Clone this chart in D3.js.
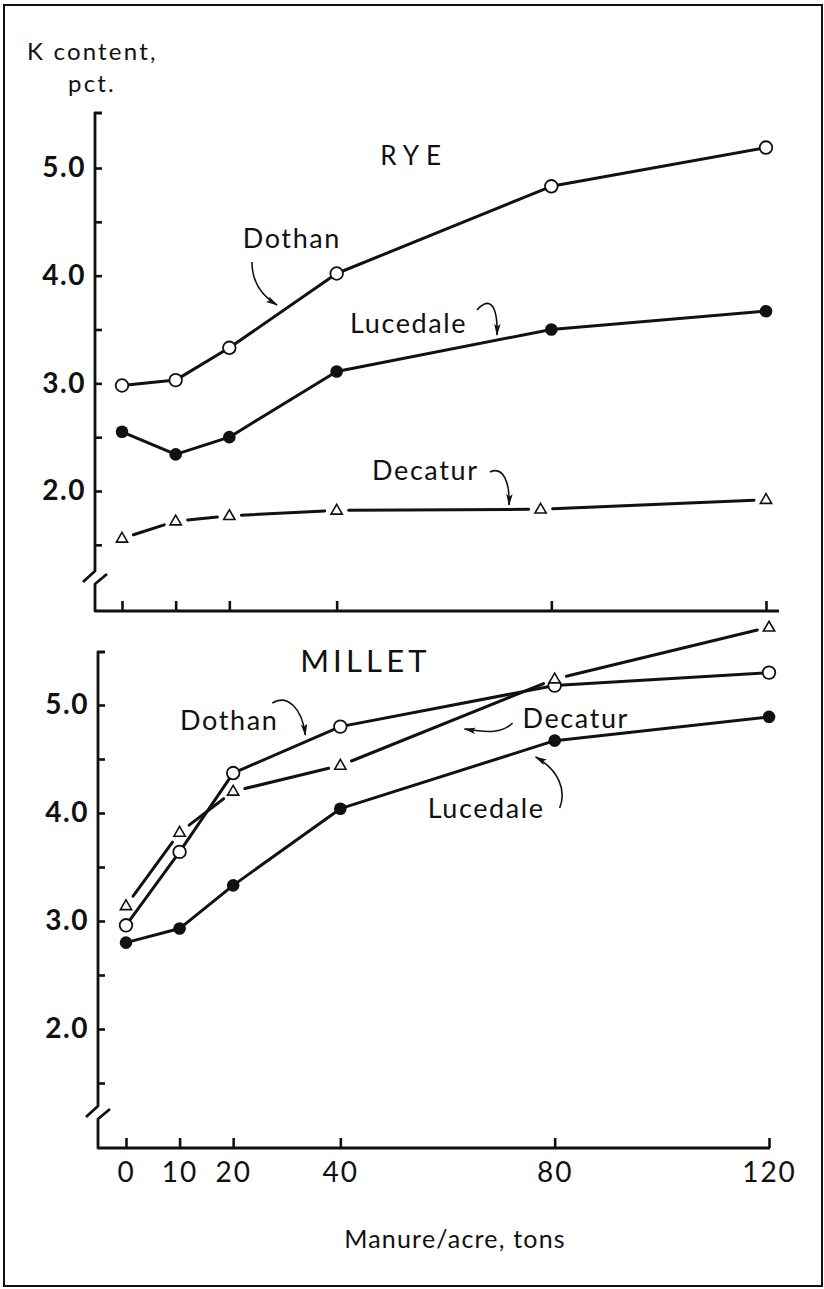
<!DOCTYPE html>
<html>
<head>
<meta charset="utf-8">
<script src="https://cdn.jsdelivr.net/npm/d3@7"></script>
<style>
  html, body { margin: 0; padding: 0; background: #fff; }
  svg { display: block; }
  text { font-family: Lato, "DejaVu Sans", sans-serif; fill: #111; }
</style>
</head>
<body>
<svg id="chart" width="824" height="1289"></svg>
<script>
// ---------------- DATA ----------------
const manure = [0, 10, 20, 40, 80, 120];             // tons per acre
const xTickValues = [0, 10, 20, 40, 80, 120];
const xTickLabels = ["0", "10", "20", "40", "80", "120"];
const yMajorTicks = [2.0, 3.0, 4.0, 5.0];
const yMinorTicks = [1.5, 2.5, 3.5, 4.5];

// RYE, K content (pct.)
const ryeDothan   = [2.98, 3.03, 3.33, 4.02, 4.83, 5.19];
const ryeLucedale = [2.55, 2.34, 2.50, 3.11, 3.50, 3.67];
const ryeDecaturX = [0, 10, 20, 40, 78, 120];
const ryeDecatur  = [1.56, 1.72, 1.77, 1.82, 1.83, 1.92];

// MILLET, K content (pct.)
const milDothan   = [2.96, 3.64, 4.37, 4.80, 5.18, 5.30];
const milLucedale = [2.80, 2.93, 3.33, 4.04, 4.67, 4.89];
const milDecatur  = [3.14, 3.82, 4.20, 4.44, 5.24, 5.72];

// ---------------- LAYOUT ----------------
const svg = d3.select("#chart");
const INK = "#111";

svg.append("rect").attr("x", 4).attr("y", 5).attr("width", 818).attr("height", 1281)
  .attr("fill", "none").attr("stroke", INK).attr("stroke-width", 2);

// arrowhead marker
svg.append("defs").append("marker")
  .attr("id", "arrow").attr("viewBox", "0 0 12 8").attr("refX", 11).attr("refY", 4)
  .attr("markerWidth", 12).attr("markerHeight", 8).attr("markerUnits", "userSpaceOnUse")
  .attr("orient", "auto")
  .append("path").attr("d", "M0,0.8 L12,4 L0,7.2 L2.5,4 Z").attr("fill", INK);

const panels = [
  {
    name: "RYE",
    x: d3.scaleLinear().domain([0, 120]).range([122, 766]),
    y: d3.scaleLinear().domain([2, 5]).range([491, 168]),
    axisX: 95, axisTop: 113, breakY: 571, baseY: 611, axisRight: 779,
    showXLabels: false,
    title: {text: "RYE", x: 48.1, y: 5.03, size: 26, ls: 7},
    series: [
      {xs: manure, ys: ryeDothan, type: "open"},
      {xs: manure, ys: ryeLucedale, type: "filled"},
      {xs: ryeDecaturX, ys: ryeDecatur, type: "tri"}
    ],
    labels: [
      {text: "Dothan", x: 22.5, y: 4.257,
       arrow: [[24.22, 4.127], [24.22, 3.867], [28.88, 3.728]]},
      {text: "Lucedale", x: 42.5, y: 3.468,
       arrow: [[66.15, 3.681], [68.01, 3.793], [70.06, 3.774], [69.88, 3.449]]},
      {text: "Decatur", x: 46.6, y: 2.102,
       arrow: [[68.57, 2.177], [70.99, 2.232], [72.30, 2.084], [72.11, 1.870]]}
    ]
  },
  {
    name: "MILLET",
    x: d3.scaleLinear().domain([0, 120]).range([126, 769]),
    y: d3.scaleLinear().domain([2, 5]).range([1029, 705]),
    axisX: 98, axisTop: 652, breakY: 1106, baseY: 1148, axisRight: 770,
    showXLabels: true,
    title: {text: "MILLET", x: 32.5, y: 5.306, size: 31, ls: 4.2},
    series: [
      {xs: manure, ys: milDothan, type: "open"},
      {xs: manure, ys: milLucedale, type: "filled"},
      {xs: manure, ys: milDecatur, type: "tri"}
    ],
    labels: [
      {text: "Dothan", x: 10.1, y: 4.769,
       arrow: [[27.29, 5.019], [30.09, 5.102], [32.90, 4.972], [33.46, 4.722]]},
      {text: "Decatur", x: 74.0, y: 4.787,
       arrow: [[72.15, 4.833], [70.28, 4.741], [67.66, 4.741], [63.18, 4.778]]},
      {text: "Lucedale", x: 56.3, y: 3.954,
       arrow: [[80.93, 4.046], [82.24, 4.213], [80.75, 4.398], [76.45, 4.519]]}
    ]
  }
];

panels.forEach(p => {
  const g = svg.append("g");
  const x = p.x, y = p.y;

  // ---- y axis (inward ticks) ----
  const yAxis = d3.axisLeft(y)
    .tickValues([...yMinorTicks, ...yMajorTicks])
    .tickSize(-7).tickPadding(9)
    .tickFormat(d => yMajorTicks.includes(d) ? d3.format(".1f")(d) : "");
  const ya = g.append("g").attr("transform", `translate(${p.axisX},0)`).call(yAxis);
  ya.select(".domain").remove();
  ya.selectAll(".tick line").attr("stroke", INK).attr("stroke-width", 2.6);
  ya.selectAll(".tick text").attr("font-size", 28).attr("font-weight", 700)
    .attr("font-family", "Lato, sans-serif").attr("fill", INK).attr("letter-spacing", 1.5);

  // ---- x axis (inward ticks) ----
  const xAxis = d3.axisBottom(x).tickValues(xTickValues)
    .tickSize(-10).tickPadding(14)
    .tickFormat((d, i) => p.showXLabels ? xTickLabels[i] : "");
  const xa = g.append("g").attr("transform", `translate(0,${p.baseY})`).call(xAxis);
  xa.select(".domain").remove();
  xa.selectAll(".tick line").attr("stroke", INK).attr("stroke-width", 2.6);
  xa.selectAll(".tick text").attr("font-size", 28).attr("font-family", "Lato, sans-serif")
    .attr("fill", INK).attr("letter-spacing", 2);

  // ---- axis frame with break ----
  g.append("path")
    .attr("d", `M${p.axisX + 7},${p.axisTop} H${p.axisX} V${p.breakY} L${p.axisX - 12},${p.breakY + 11}`)
    .attr("fill", "none").attr("stroke", INK).attr("stroke-width", 2.8).attr("stroke-linejoin", "round");
  g.append("path")
    .attr("d", `M${p.axisX + 12},${p.breakY + 3} L${p.axisX},${p.breakY + 13} V${p.baseY} H${p.axisRight}`)
    .attr("fill", "none").attr("stroke", INK).attr("stroke-width", 2.8).attr("stroke-linejoin", "round");

  // ---- series lines ----
  const GAP = 12;
  p.series.forEach(s => {
    const pts = s.xs.map((v, i) => [x(v), y(s.ys[i])]);
    if (s.type === "tri") {
      // segments with gaps around the triangle symbols
      for (let i = 0; i < pts.length - 1; i++) {
        const [x0, y0] = pts[i], [x1, y1] = pts[i + 1];
        const L = Math.hypot(x1 - x0, y1 - y0);
        const ux = (x1 - x0) / L, uy = (y1 - y0) / L;
        g.append("line")
          .attr("x1", x0 + ux * GAP).attr("y1", y0 + uy * GAP)
          .attr("x2", x1 - ux * GAP).attr("y2", y1 - uy * GAP)
          .attr("stroke", INK).attr("stroke-width", 3).attr("stroke-linecap", "round");
      }
    } else {
      g.append("path").datum(pts)
        .attr("d", d3.line())
        .attr("fill", "none").attr("stroke", INK).attr("stroke-width", 3)
        .attr("stroke-linejoin", "round");
    }
  });

  // ---- markers ----
  p.series.forEach(s => {
    const pts = s.xs.map((v, i) => [x(v), y(s.ys[i])]);
    if (s.type === "open") {
      g.selectAll(null).data(pts).join("circle")
        .attr("cx", d => d[0]).attr("cy", d => d[1]).attr("r", 6.3)
        .attr("fill", "#fff").attr("stroke", INK).attr("stroke-width", 1.8);
    } else if (s.type === "filled") {
      g.selectAll(null).data(pts).join("circle")
        .attr("cx", d => d[0]).attr("cy", d => d[1]).attr("r", 6.3)
        .attr("fill", INK);
    } else {
      const tri = d3.symbol().type(d3.symbolTriangle).size(55);
      g.selectAll(null).data(pts).join("path")
        .attr("transform", d => `translate(${d[0]},${d[1] + 0.5})`)
        .attr("d", tri)
        .attr("fill", "#fff").attr("stroke", INK).attr("stroke-width", 1.6)
        .attr("stroke-linejoin", "miter");
    }
  });

  // ---- title ----
  g.append("text").text(p.title.text)
    .attr("x", x(p.title.x)).attr("y", y(p.title.y))
    .attr("font-size", p.title.size).attr("letter-spacing", p.title.ls);

  // ---- series labels with curved arrows ----
  p.labels.forEach(l => {
    g.append("text").text(l.text)
      .attr("x", x(l.x)).attr("y", y(l.y))
      .attr("font-size", 27).attr("letter-spacing", 1.6);
    const a = l.arrow.map(q => [x(q[0]), y(q[1])]);
    const d = a.length === 3
      ? `M${a[0]} Q${a[1]} ${a[2]}`
      : `M${a[0]} C${a[1]} ${a[2]} ${a[3]}`;
    g.append("path").attr("d", d)
      .attr("fill", "none").attr("stroke", INK).attr("stroke-width", 1.6)
      .attr("marker-end", "url(#arrow)");
  });
});

// ---- axis titles ----
svg.append("text").text("K content,").attr("x", 27).attr("y", 60)
  .attr("font-size", 24).attr("letter-spacing", 2.2);
svg.append("text").text("pct.").attr("x", 68).attr("y", 92)
  .attr("font-size", 24).attr("letter-spacing", 2.2);
svg.append("text").text("Manure/acre, tons").attr("x", 455).attr("y", 1248)
  .attr("text-anchor", "middle").attr("font-size", 25).attr("letter-spacing", 1.2);
</script>
</body>
</html>
